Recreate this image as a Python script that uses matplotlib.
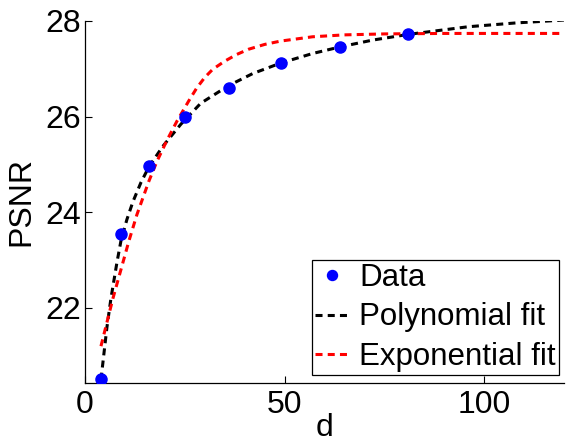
import matplotlib
matplotlib.use("Agg")
import matplotlib.pyplot as plt

plt.rcParams['font.family'] = ['Liberation Sans', 'DejaVu Sans']

# Data points
d_data = [4, 9, 16, 25, 36, 49, 64, 81]
psnr_data = [20.51, 23.55, 24.97, 26.0, 26.6, 27.12, 27.45, 27.73]

# Polynomial fit curve
d_poly = [4, 4.6, 5.5, 6.5, 8, 9, 10.5, 12, 14, 16, 19.5, 24, 29, 36, 42, 49, 57, 64, 72, 81, 96, 108, 120]
psnr_poly = [20.5, 20.94, 21.6, 22.2, 22.95, 23.4, 23.85, 24.22, 24.62, 24.95, 25.38, 25.84, 26.28,
             26.65, 26.9, 27.12, 27.32, 27.46, 27.6, 27.72, 27.88, 27.96, 28.02]

# Exponential fit curve
d_exp = [4, 5.5, 7, 9, 11, 13, 16, 18, 20.5, 23, 26, 28, 30, 32, 35, 38, 41, 45, 49, 57, 65, 75, 90, 120]
psnr_exp = [21.2, 21.7, 22.2, 22.8, 23.4, 23.95, 24.65, 25.06, 25.5, 25.9, 26.33, 26.6, 26.82, 26.99,
            27.16, 27.3, 27.41, 27.51, 27.58, 27.67, 27.71, 27.73, 27.74, 27.74]

x_ticks = [0, 50, 100]
y_ticks = [22, 24, 26, 28]

W, H = 566, 446
fig = plt.figure(figsize=(W / 100, H / 100), dpi=100)
left, right, top, bottom = 85, 564, 21, 383
ax = fig.add_axes([left / W, 1 - bottom / H, (right - left) / W, (bottom - top) / H])

ax.plot(d_data, psnr_data, 'o', color='#0000ff', markersize=8, label='Data', zorder=3)
ax.plot(d_poly, psnr_poly, color='black', lw=2.2, dashes=(2.3, 1.7), label='Polynomial fit')
ax.plot(d_exp, psnr_exp, color='#ff0000', lw=2.2, dashes=(2.3, 1.7), label='Exponential fit')

ax.set_xlim(0, 120)
ax.set_ylim(20.43, 28)
ax.set_xticks(x_ticks)
ax.set_yticks(y_ticks)
ax.tick_params(direction='in', length=5, width=0.8, labelsize=23)
ax.tick_params(axis='x', pad=5)
ax.tick_params(axis='y', pad=3)
ax.spines['top'].set_visible(False)
ax.spines['right'].set_visible(False)
for s in ('left', 'bottom'):
    ax.spines[s].set_linewidth(0.9)

ax.set_xlabel('d', fontsize=23, labelpad=-5)
ax.set_ylabel('PSNR', fontsize=23, labelpad=6)

leg = ax.legend(loc='upper left', bbox_to_anchor=(312 / W, 1 - 260 / H),
                bbox_transform=fig.transFigure, borderaxespad=0,
                fontsize=22.5, frameon=True, fancybox=False, framealpha=1,
                edgecolor='black', handlelength=1.1, handletextpad=0.3,
                borderpad=0.1, labelspacing=0.3, markerscale=0.9)
leg.get_frame().set_linewidth(0.9)

fig.savefig('out.png', dpi=100)
